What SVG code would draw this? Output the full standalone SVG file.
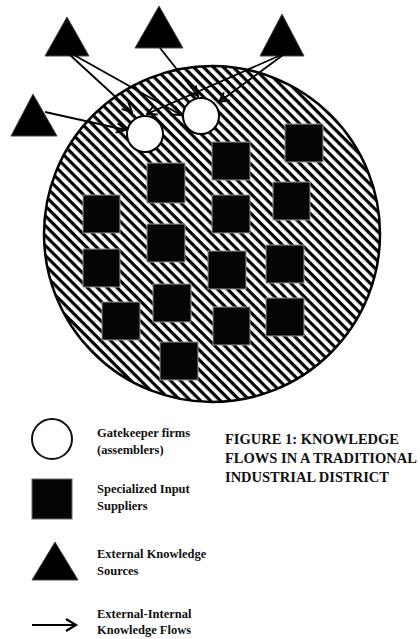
<svg xmlns="http://www.w3.org/2000/svg" width="420" height="639" viewBox="0 0 420 639">
<style>
.tri{fill:#000;stroke:#444;stroke-width:1}
.sq{fill:#050505;stroke:#999;stroke-width:1}
.gk{fill:#fff;stroke:#000;stroke-width:2}
.flow{fill:none;stroke:#000;stroke-width:1.8;marker-end:url(#ah)}
.lg{font-family:"Liberation Serif","Times New Roman",serif;font-weight:bold;font-size:12.5px;fill:#111}
.tt{font-family:"Liberation Serif","Times New Roman",serif;font-weight:bold;font-size:14.5px;fill:#111}
</style>
<defs>
<pattern id="hatch" patternUnits="userSpaceOnUse" width="7" height="7" patternTransform="rotate(45)">
<rect width="7" height="7" fill="#fff"/>
<rect width="7" height="3.2" fill="#000"/>
</pattern>
<marker id="ah" markerUnits="userSpaceOnUse" markerWidth="12" markerHeight="12" viewBox="0 0 10 10" refX="9" refY="5" orient="auto">
<path d="M1,1 L9,5 L1,9" fill="none" stroke="#000" stroke-width="1.6"/>
</marker>
</defs>
<g id="district">
<circle cx="212" cy="234" r="168" fill="url(#hatch)" stroke="#000" stroke-width="2.5"/>
</g>
<g id="suppliers">
<rect class="sq" x="285" y="124" width="38" height="38"/>
<rect class="sq" x="212" y="142" width="38" height="38"/>
<rect class="sq" x="147" y="163" width="38" height="40"/>
<rect class="sq" x="273" y="182" width="37" height="38"/>
<rect class="sq" x="83" y="195" width="37" height="38"/>
<rect class="sq" x="212" y="195" width="38" height="38"/>
<rect class="sq" x="147" y="224" width="38" height="38"/>
<rect class="sq" x="266" y="245" width="38" height="38"/>
<rect class="sq" x="83" y="249" width="37" height="38"/>
<rect class="sq" x="208" y="251" width="38" height="38"/>
<rect class="sq" x="153" y="284" width="38" height="38"/>
<rect class="sq" x="266" y="298" width="38" height="38"/>
<rect class="sq" x="102" y="302" width="38" height="38"/>
<rect class="sq" x="213" y="307" width="37" height="38"/>
<rect class="sq" x="160" y="342" width="38" height="38"/>
</g>
<g id="gatekeeper1"><circle class="gk" cx="145" cy="134" r="18"/></g>
<g id="gatekeeper2"><circle class="gk" cx="201" cy="116" r="18"/></g>
<g id="sourceA"><polygon class="tri" points="45,56 89,56 67,17"/></g>
<g id="sourceB"><polygon class="tri" points="135,48 183,48 159,6"/></g>
<g id="sourceC"><polygon class="tri" points="260,56 304,56 282,14"/></g>
<g id="sourceD"><polygon class="tri" points="11,136 57,136 33,94"/></g>
<g id="connectors">
<line class="flow" x1="45" y1="112" x2="126" y2="130"/>
<line class="flow" x1="70" y1="55" x2="132" y2="112"/>
<line class="flow" x1="74" y1="55" x2="181" y2="115"/>
<line class="flow" x1="160" y1="48" x2="198" y2="96"/>
<line class="flow" x1="283" y1="55" x2="219" y2="102"/>
<line class="flow" x1="281" y1="55" x2="147" y2="114"/>
</g>
<g id="legend">
<circle cx="52" cy="439" r="20" fill="#fff" stroke="#111" stroke-width="2"/>
<text class="lg" x="97" y="437">Gatekeeper firms</text>
<text class="lg" x="97" y="454">(assemblers)</text>
<rect x="32" y="479" width="40" height="40" fill="#050505" stroke="#666" stroke-width="1"/>
<text class="lg" x="97" y="493">Specialized Input</text>
<text class="lg" x="97" y="510">Suppliers</text>
<polygon class="tri" points="32,580 78,580 55,542"/>
<text class="lg" x="97" y="558">External Knowledge</text>
<text class="lg" x="97" y="575">Sources</text>
<line x1="32" y1="625" x2="74" y2="625" stroke="#000" stroke-width="2.2"/>
<path d="M66,619 L76,625 L66,631" fill="none" stroke="#000" stroke-width="2.2"/>
<text class="lg" x="97" y="618">External-Internal</text>
<text class="lg" x="97" y="634">Knowledge Flows</text>
</g>
<g id="title">
<text class="tt" x="225" y="444">FIGURE 1: KNOWLEDGE</text>
<text class="tt" x="225" y="463">FLOWS IN A TRADITIONAL</text>
<text class="tt" x="225" y="482">INDUSTRIAL DISTRICT</text>
</g>
</svg>
